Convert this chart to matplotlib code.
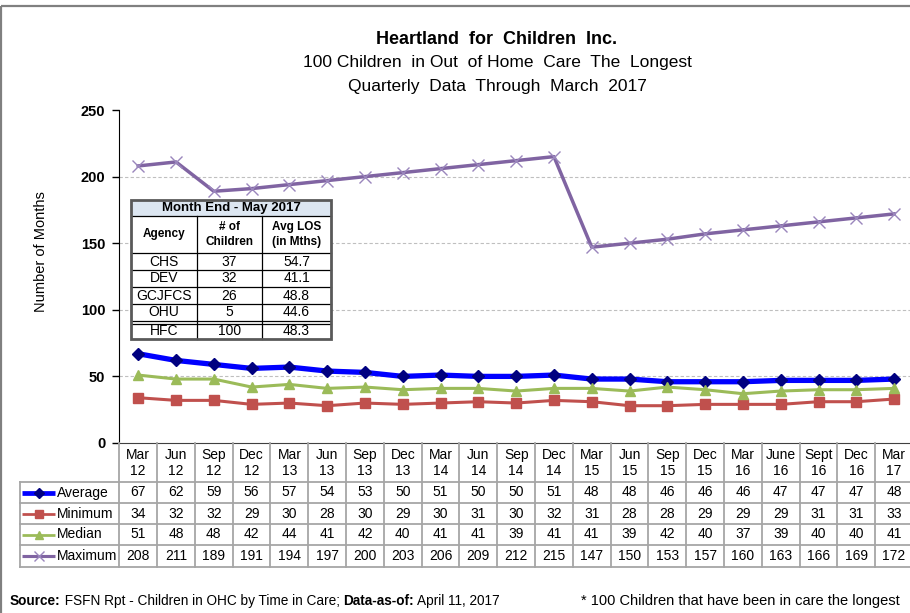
import matplotlib
matplotlib.use("Agg")
import matplotlib.pyplot as plt
from matplotlib import font_manager
from matplotlib.patches import Rectangle
from matplotlib.transforms import blended_transform_factory

# chart data
months = ["Mar\n12", "Jun\n12", "Sep\n12", "Dec\n12", "Mar\n13", "Jun\n13", "Sep\n13",
          "Dec\n13", "Mar\n14", "Jun\n14", "Sep\n14", "Dec\n14", "Mar\n15", "Jun\n15",
          "Sep\n15", "Dec\n15", "Mar\n16", "June\n16", "Sept\n16", "Dec\n16", "Mar\n17"]
average = [67, 62, 59, 56, 57, 54, 53, 50, 51, 50, 50, 51, 48, 48, 46, 46, 46, 47, 47, 47, 48]
minimum = [34, 32, 32, 29, 30, 28, 30, 29, 30, 31, 30, 32, 31, 28, 28, 29, 29, 29, 31, 31, 33]
median = [51, 48, 48, 42, 44, 41, 42, 40, 41, 41, 39, 41, 41, 39, 42, 40, 37, 39, 40, 40, 41]
maximum = [208, 211, 189, 191, 194, 197, 200, 203, 206, 209, 212, 215, 147, 150, 153, 157,
           160, 163, 166, 169, 172]

# inset table data
agencies = ["CHS", "DEV", "GCJFCS", "OHU", "HFC"]
n_children = [37, 32, 26, 5, 100]
avg_los = [54.7, 41.1, 48.8, 44.6, 48.3]

W, H = 910, 613
names = {f.name for f in font_manager.fontManager.ttflist}
narrow = "Liberation Sans Narrow" if "Liberation Sans Narrow" in names else "Liberation Sans"
plt.rcParams['font.family'] = ['Liberation Sans', 'DejaVu Sans']

fig = plt.figure(figsize=(W / 100, H / 100), dpi=100)

# main plot area (pixel box: left 119, right 913, top 110, bottom 443)
ax = fig.add_axes([119.3 / W, 1 - 443 / H, (913 - 119.3) / W, (443 - 110) / H])
x = list(range(len(months)))
series = [
    ("Average", average, dict(color="#0000FF", lw=3.8, marker="D", ms=6.5, mfc="#000080", mec="#000080")),
    ("Minimum", minimum, dict(color="#C0504D", lw=2.2, marker="s", ms=7, mfc="#C0504D", mec="#C0504D")),
    ("Median", median, dict(color="#9BBB59", lw=2.2, marker="^", ms=7, mfc="#9BBB59", mec="#9BBB59")),
    ("Maximum", maximum, dict(color="#8064A2", lw=2.5, marker="x", ms=9, mew=1.0, mec="#9A86BC")),
]
for name, vals, st in series:
    ax.plot(x, vals, zorder=3, **st)

ax.set_xlim(-0.5, len(months) - 0.5)
ax.set_ylim(0, 250)
ax.set_yticks([0, 50, 100, 150, 200, 250])
ax.set_yticklabels(["0", "50", "100", "150", "200", "250"], fontsize=10.5, fontweight="bold")
ax.tick_params(axis="y", direction="out", length=5, width=1, pad=5)
ax.set_xticks([])
for v in [50, 100, 150, 200]:
    ax.axhline(v, color="#BFBFBF", lw=0.8, ls=(0, (3, 2)), zorder=1)
ax.spines["top"].set_visible(False)
ax.spines["right"].set_visible(False)
ax.spines["left"].set_color("black")
ax.spines["bottom"].set_color("#404040")

# overlay in pixel coordinates for text and tables
ov = fig.add_axes([0, 0, 1, 1], zorder=5)
ov.set_xlim(0, W)
ov.set_ylim(H, 0)
ov.axis("off")
ov.patch.set_alpha(0)

# outer frame
ov.add_patch(Rectangle((1, 5.5), W + 10, H + 10, fill=False, ec="#808080", lw=1.6, clip_on=False))

# titles
ov.text(497, 40, "Heartland  for  Children  Inc.", ha="center", va="center", fontsize=13, fontweight="bold")
ov.text(497, 63, "100 Children  in Out  of Home  Care  The  Longest", ha="center", va="center", fontsize=12.5)
ov.text(497, 87, "Quarterly  Data  Through  March  2017", ha="center", va="center", fontsize=12.5)
ov.text(41, 252, "Number of Months", rotation=90, ha="center", va="center", fontsize=10.5)

# data table beneath the chart, columns follow the data x scale
tr = blended_transform_factory(ax.transData, ov.transData)
grid_c = "#A6A6A6"
row_lines = [482, 503, 524, 545, 567]
for i, lab in enumerate(months):
    ov.text(i, 463, lab, transform=tr, ha="center", va="center", fontsize=10, linespacing=1.1)
for k in range(len(months) + 1):
    ov.plot([k - 0.5, k - 0.5], [443, row_lines[-1]], transform=tr, color=grid_c, lw=1.3, clip_on=False)
ax_left = 119.3
for yl in row_lines:
    ov.plot([19.5, ax_left], [yl, yl], color=grid_c, lw=1.3)
    ov.plot([-0.5, len(months) + 1], [yl, yl], transform=tr, color=grid_c, lw=1.3, clip_on=False)
ov.plot([19.5, 19.5], [row_lines[0], row_lines[-1]], color=grid_c, lw=1.3)

for r, (name, vals, st) in enumerate(series):
    yc = (row_lines[r] + row_lines[r + 1]) / 2
    ov.plot([22, 55], [yc, yc], color=st["color"], lw=st["lw"] * 0.9, solid_capstyle="butt")
    ov.plot([38.5], [yc], marker=st["marker"], ms=st["ms"] * 0.85, mfc=st.get("mfc", "none"),
            mec=st["mec"], mew=st.get("mew", 1.0), ls="none")
    ov.text(57, yc, name, ha="left", va="center", fontsize=10)
    for i, v in enumerate(vals):
        ov.text(i, yc, str(v), transform=tr, ha="center", va="center", fontsize=10)

# inset summary table
cx = [131, 197, 262, 331]
ry = [200, 216, 253, 270, 287, 304, 321, 339]
ov.add_patch(Rectangle((cx[0], ry[0]), cx[-1] - cx[0], ry[-1] - ry[0], fc="white", ec="none", zorder=1))
ov.add_patch(Rectangle((cx[0], ry[0]), cx[-1] - cx[0], ry[1] - ry[0], fc="#DCE6F1", ec="none", zorder=1))
for yl in ry[1:-1]:
    ov.plot([cx[0], cx[-1]], [yl, yl], color="black", lw=0.9, zorder=2)
ov.plot([cx[0], cx[-1]], [ry[6] + 2.5, ry[6] + 2.5], color="black", lw=0.9, zorder=2)
for xl in cx[1:-1]:
    ov.plot([xl, xl], [ry[1], ry[-1]], color="black", lw=0.9, zorder=2)
ov.add_patch(Rectangle((cx[0], ry[0]), cx[-1] - cx[0], ry[-1] - ry[0], fill=False, ec="#595959", lw=2, zorder=3))
ov.text((cx[0] + cx[-1]) / 2, (ry[0] + ry[1]) / 2 + 0.5, "Month End - May 2017", ha="center", va="center",
        fontsize=9.5, fontweight="bold", zorder=4)
heads = ["Agency", "# of\nChildren", "Avg LOS\n(in Mths)"]
for j, h in enumerate(heads):
    ov.text((cx[j] + cx[j + 1]) / 2, (ry[1] + ry[2]) / 2, h, ha="center", va="center",
            fontsize=8.5, fontweight="bold", linespacing=1.3, zorder=4)
for r in range(len(agencies)):
    yc = (ry[2 + r] + ry[3 + r]) / 2 + (1.2 if r == 4 else 0)
    cells = [agencies[r], str(n_children[r]), f"{avg_los[r]:.1f}"]
    for j, c in enumerate(cells):
        ov.text((cx[j] + cx[j + 1]) / 2, yc, c, ha="center", va="center", fontsize=10, zorder=4)

# footer with mixed bold / normal text
fig.canvas.draw()
renderer = fig.canvas.get_renderer()
parts = [("Source:", "bold"), (" FSFN Rpt - Children in OHC by Time in Care; ", "normal"),
         ("Data-as-of:", "bold"), (" April 11, 2017", "normal")]
xpos = 10
for txt, wt in parts:
    t = ov.text(xpos, 601, txt, ha="left", va="center", fontsize=9.8, fontweight=wt, family=[narrow, "DejaVu Sans"])
    bb = t.get_window_extent(renderer)
    xpos += bb.width
ov.text(900, 601, "* 100 Children that have been in care the longest", ha="right", va="center",
        fontsize=10.5, family=[narrow, "DejaVu Sans"])

fig.savefig("out.png", dpi=100)
